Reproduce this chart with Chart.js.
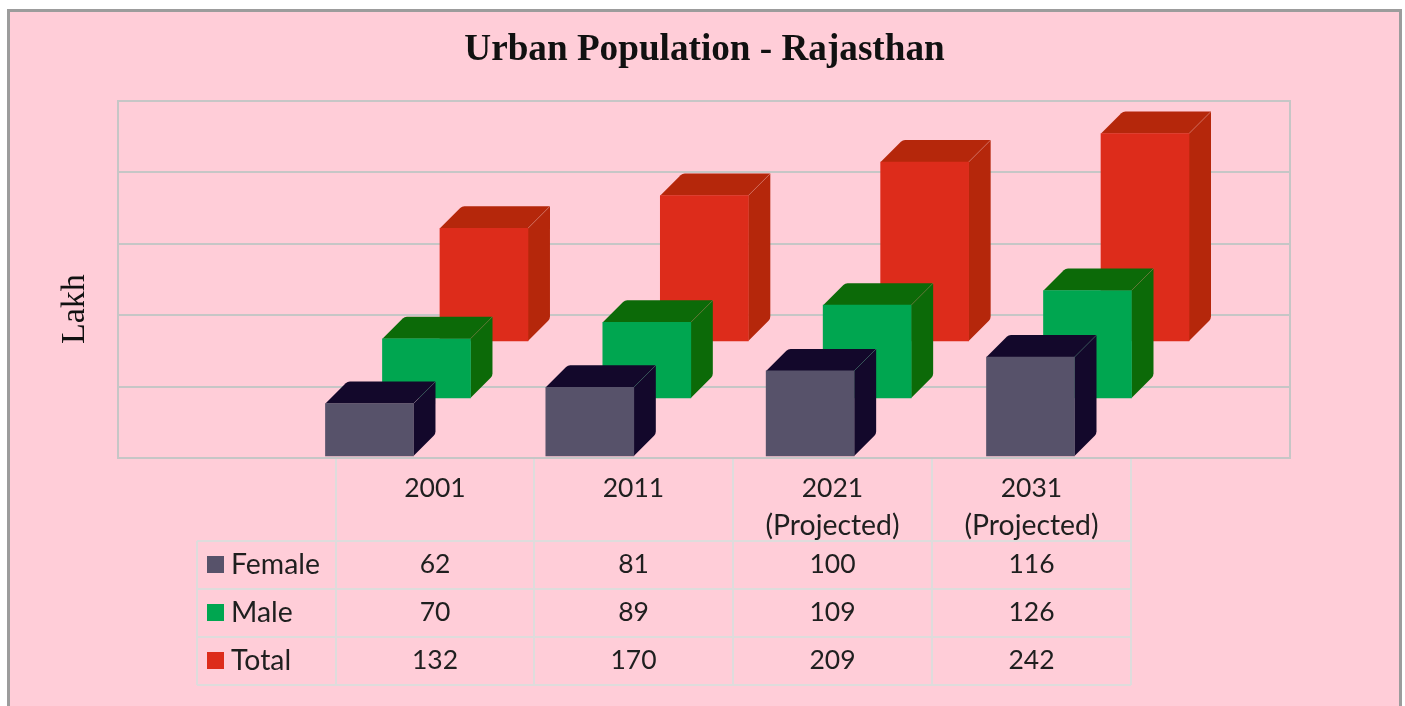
<!DOCTYPE html>
<html>
<head>
<meta charset="utf-8">
<script src="https://cdn.jsdelivr.net/npm/chart.js@4"></script>
<style>
html,body{margin:0;padding:0;background:#fff;width:1405px;height:706px;overflow:hidden}
#panel{position:absolute;left:7px;top:9px;width:1389px;height:720px;background:#ffcdd8;border:3px solid #9c9c9c;box-sizing:content-box}
#c{position:absolute;left:0;top:0}
.line{position:absolute;background:#dedcdc}
.cell{position:absolute;font:26.5px/37px Lato,sans-serif;color:#1f1f1f;text-align:center;white-space:pre}
.word{font-size:28.4px}
.swatch{position:absolute;width:17px;height:17px}
</style>
</head>
<body>
<div id="panel"></div>
<canvas id="c" width="1405" height="706"></canvas>
<div id="table"></div>
<script>
const categories = ['2001', '2011', '2021\n(Projected)', '2031\n(Projected)'];
const female = [62, 81, 100, 116];
const male = [70, 89, 109, 126];
const total = [132, 170, 209, 242];
const seriesNames = ['Female', 'Male', 'Total'];
const seriesValues = [female, male, total];
const frontColors = ['#57526a', '#00a650', '#dd2c1b'];
const shadeColors = ['#13082b', '#0c6a08', '#b5270b'];

const DEPTH = 22;
const seriesOffset = [[0.5, -1], [57.5, -59], [115, -116]];

const box3d = {
  id: 'box3d',
  beforeDatasetDraw(chart, args) {
    const i = args.index, ctx = chart.ctx, d = DEPTH;
    ctx.save();
    ctx.translate(seriesOffset[i][0], seriesOffset[i][1]);
    ctx.fillStyle = shadeColors[i];
    args.meta.data.forEach(el => {
      const l = el.x - el.width / 2, r = el.x + el.width / 2, t = el.y, b = el.base;
      // top face
      ctx.beginPath();
      ctx.moveTo(l, t);
      ctx.arcTo(l + d, t - d, r + d, t - d, 6);
      ctx.lineTo(r + d, t - d);
      ctx.lineTo(r, t);
      ctx.closePath();
      ctx.fill();
      // side face
      ctx.beginPath();
      ctx.moveTo(r, t);
      ctx.lineTo(r + d, t - d);
      ctx.arcTo(r + d, b - d, r, b, 6);
      ctx.lineTo(r, b);
      ctx.closePath();
      ctx.fill();
      // faint inner corner edge
      ctx.strokeStyle = 'rgba(255,255,255,0.18)';
      ctx.lineWidth = 1;
      ctx.beginPath();
      ctx.moveTo(r, t);
      ctx.lineTo(r + d, t - d);
      ctx.stroke();
    });
  },
  afterDatasetDraw(chart) {
    chart.ctx.restore();
  }
};

new Chart(document.getElementById('c'), {
  type: 'bar',
  data: {
    datasets: seriesNames.map((name, s) => ({
      label: name,
      data: seriesValues[s].map((v, i) => ({ x: i, y: v })),
      backgroundColor: frontColors[s],
      borderWidth: 0,
      barThickness: 88,
      grouped: false,
      clip: false
    }))
  },
  plugins: [box3d],
  options: {
    responsive: false,
    animation: false,
    layout: { padding: { left: 4, right: 0, top: 0, bottom: 248 } },
    plugins: {
      legend: { display: false },
      tooltip: { enabled: false },
      title: {
        display: true,
        text: 'Urban Population - Rajasthan',
        color: '#111',
        font: { family: 'Liberation Serif', size: 37.2, weight: 'bold', lineHeight: 1.2 },
        padding: { top: 28, bottom: 28 }
      }
    },
    scales: {
      x: { type: 'linear', display: false, offset: false, min: -1.139, max: 4.18 },
      y: {
        min: 0, max: 415,
        afterFit(s) { s.width = 114; },
        ticks: { display: false, stepSize: 83 },
        grid: { color: '#c6c6c6', lineWidth: 2, drawTicks: false },
        border: { color: '#c6c6c6', width: 2 },
        title: {
          display: true, text: 'Lakh       ', color: '#111',
          font: { family: 'Liberation Serif', size: 34, lineHeight: 1.2 },
          padding: { top: 51, bottom: 0 }
        }
      },
      yRight: {
        position: 'right', min: 0, max: 415,
        afterFit(s) { s.width = 115; },
        ticks: { display: false },
        grid: { display: false, drawTicks: false },
        border: { color: '#c6c6c6', width: 2 }
      }
    }
  }
});

// data table below the plot
const colX = [197, 336, 534, 733, 932, 1131];
const rowY = [541, 589, 637, 685];
const tbl = document.getElementById('table');
function line(x, y, w, h) {
  const e = document.createElement('div');
  e.className = 'line';
  e.style.cssText = `left:${x - (w === 2 ? 1 : 0)}px;top:${y - (h === 2 ? 1 : 0)}px;width:${w}px;height:${h}px`;
  tbl.appendChild(e);
}
function cell(text, x, y, w, align) {
  const e = document.createElement('div');
  e.className = /^\d+$/.test(text) ? 'cell' : 'cell word';
  e.textContent = text;
  e.style.cssText = `left:${x}px;top:${y}px;width:${w}px;text-align:${align}`;
  tbl.appendChild(e);
}
for (let i = 1; i < colX.length; i++) line(colX[i], 459, 2, rowY[3] - 459);
line(colX[0], rowY[0], 2, rowY[3] - rowY[0]);
rowY.forEach(y => line(colX[0], y, colX[5] - colX[0], 2));
categories.forEach((c, i) => c.split('\n').forEach((part, k) =>
  cell(part, colX[i + 1], 469 + k * 37, colX[i + 2] - colX[i + 1], 'center')));
seriesNames.forEach((name, s) => {
  const cy = [564, 612, 660][s];
  const sw = document.createElement('div');
  sw.className = 'swatch';
  sw.style.cssText = `left:207px;top:${cy - 8}px;background:${frontColors[s]}`;
  tbl.appendChild(sw);
  cell(name, 231, cy - 19, 100, 'left');
  seriesValues[s].forEach((v, i) => cell(String(v), colX[i + 1], cy - 19, colX[i + 2] - colX[i + 1], 'center'));
});
</script>
</body>
</html>
